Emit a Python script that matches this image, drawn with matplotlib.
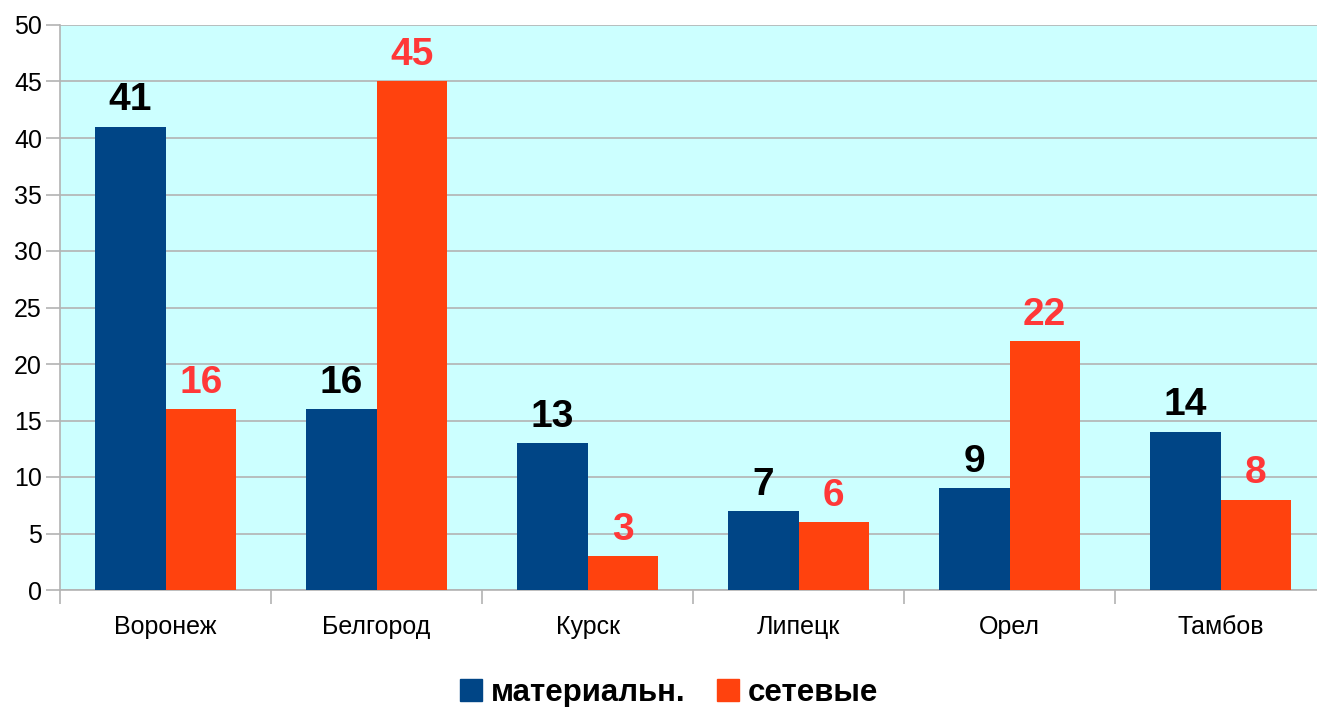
import numpy as np
import matplotlib.pyplot as plt
from matplotlib.patches import Patch

regions = ['Воронеж', 'Белгород', 'Курск', 'Липецк', 'Орел', 'Тамбов']
material = [41, 16, 13, 7, 9, 14]
network = [16, 45, 3, 6, 22, 8]
series_names = ['материальн.', 'сетевые']

blue = '#004586'
orange = '#ff420e'

plt.rcParams['font.family'] = ['Liberation Sans', 'DejaVu Sans']

fig = plt.figure(figsize=(13.17, 7.07), dpi=100)
ax = fig.add_axes([60 / 1317, 117 / 707, 1266 / 1317, 565 / 707])
ax.set_facecolor('#ccffff')

x = np.arange(len(regions))
w = 1 / 3
b1 = ax.bar(x - w / 2, material, w, color=blue, zorder=3)
b2 = ax.bar(x + w / 2, network, w, color=orange, zorder=3)

for bar, v in zip(b1, material):
    ax.annotate(str(v), (bar.get_x() + bar.get_width() / 2, v), xytext=(0, 6),
                textcoords='offset points', ha='center', va='bottom',
                fontsize=28, fontweight='bold', color='black')
for bar, v in zip(b2, network):
    ax.annotate(str(v), (bar.get_x() + bar.get_width() / 2, v), xytext=(0, 6),
                textcoords='offset points', ha='center', va='bottom',
                fontsize=28, fontweight='bold', color='#ff3838')

ax.set_xlim(-0.5, len(regions) - 0.5)
ax.set_ylim(0, 50)
ax.set_yticks(range(0, 51, 5))
ax.set_xticks(x)
ax.set_xticklabels(regions, fontsize=18)
ax.set_xticks(np.arange(-0.5, len(regions), 1), minor=True)
ax.tick_params(axis='x', which='major', length=0, pad=18)
ax.tick_params(axis='x', which='minor', length=10, color='#b3b3b3', width=1.2)
ax.tick_params(axis='y', labelsize=18, length=10, color='#b3b3b3', width=1.2, pad=3)
ax.yaxis.grid(True, color='#b3b3b3', linewidth=1.2, zorder=0)
for s in ['top', 'right']:
    ax.spines[s].set_visible(False)
ax.spines['left'].set_color('#b3b3b3')
ax.spines['bottom'].set_color('#b3b3b3')
ax.spines['left'].set_linewidth(1.2)
ax.spines['bottom'].set_linewidth(1.2)

handles = [Patch(color=blue), Patch(color=orange)]
fig.legend(handles, series_names, loc='center', bbox_to_anchor=(669 / 1317, 1 - 693 / 707),
           ncol=2, frameon=False, prop={'size': 22.5, 'weight': 'bold'},
           handlelength=0.7, handleheight=0.7, handletextpad=0.3, columnspacing=1.0)

fig.savefig('out.png', dpi=100)
